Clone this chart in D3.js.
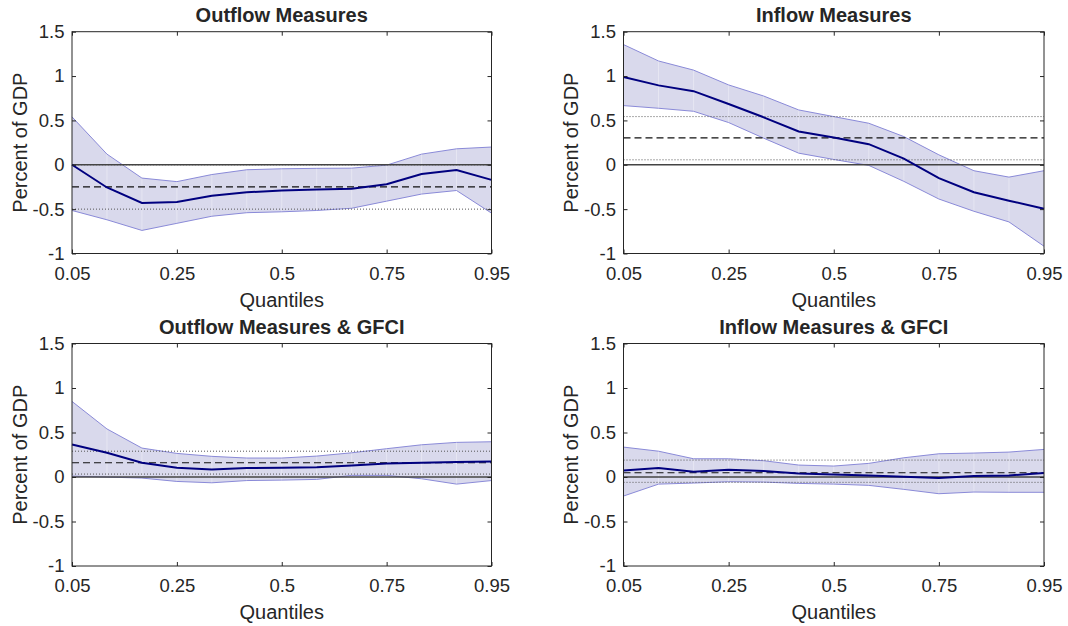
<!DOCTYPE html>
<html>
<head>
<meta charset="utf-8">
<script src="https://cdn.jsdelivr.net/npm/d3@7"></script>
<style>
  body { margin: 0; background: #fff; }
  text { font-family: "Liberation Sans", Arial, sans-serif; fill: #262626; }
</style>
</head>
<body>
<script>
// quantiles estimated (13 points, axis is by position)
const quantiles = ['0.05','0.1','0.2','0.25','0.3','0.4','0.5','0.6','0.7','0.75','0.8','0.9','0.95'];
const xTickLabels = ['0.05','0.25','0.5','0.75','0.95'];
const yTicks = [-1, -0.5, 0, 0.5, 1, 1.5];

const titles = ['Outflow Measures', 'Inflow Measures', 'Outflow Measures & GFCI', 'Inflow Measures & GFCI'];

// Outflow measures
const outMean  = [0.0, -0.256, -0.43, -0.42, -0.35, -0.31, -0.29, -0.28, -0.27, -0.22, -0.105, -0.06, -0.17];
const outUpper = [0.54, 0.12, -0.15, -0.19, -0.11, -0.056, -0.045, -0.04, -0.038, -0.004, 0.12, 0.18, 0.2];
const outLower = [-0.515, -0.62, -0.74, -0.66, -0.58, -0.54, -0.53, -0.515, -0.49, -0.41, -0.33, -0.29, -0.545];
const outRef   = [-0.5, -0.25, 0.0];   // dotted, dashed, dotted

// Inflow measures
const inMean  = [0.99, 0.895, 0.83, 0.685, 0.535, 0.375, 0.307, 0.232, 0.07, -0.15, -0.31, -0.405, -0.495];
const inUpper = [1.355, 1.17, 1.067, 0.9, 0.775, 0.618, 0.543, 0.468, 0.318, 0.112, -0.067, -0.139, -0.067];
const inLower = [0.667, 0.637, 0.603, 0.476, 0.3, 0.131, 0.06, -0.007, -0.187, -0.386, -0.524, -0.644, -0.918];
const inRef   = [0.056, 0.303, 0.543];

// Outflow measures & GFCI
const outGMean  = [0.366, 0.272, 0.16, 0.104, 0.085, 0.1, 0.104, 0.11, 0.13, 0.153, 0.16, 0.168, 0.175];
const outGUpper = [0.849, 0.54, 0.325, 0.265, 0.232, 0.213, 0.213, 0.235, 0.272, 0.318, 0.362, 0.389, 0.396];
const outGLower = [0.01, -0.001, -0.012, -0.05, -0.065, -0.04, -0.035, -0.027, 0.018, 0.018, -0.02, -0.08, -0.04];
const outGRef   = [0.033, 0.16, 0.29];

// Inflow measures & GFCI
const inGMean  = [0.074, 0.1, 0.059, 0.082, 0.067, 0.04, 0.029, 0.018, 0.003, -0.012, 0.01, 0.018, 0.044];
const inGUpper = [0.336, 0.29, 0.205, 0.205, 0.183, 0.134, 0.123, 0.153, 0.216, 0.261, 0.269, 0.28, 0.31];
const inGLower = [-0.214, -0.08, -0.068, -0.053, -0.057, -0.072, -0.08, -0.094, -0.139, -0.188, -0.169, -0.172, -0.172];
const inGRef   = [-0.06, 0.048, 0.19];

const width = 1068, height = 626;

const panels = [
  { title: titles[0], mean: outMean,  upper: outUpper,  lower: outLower,  ref: outRef,  x0: 72,    x1: 491.5, y0: 31.7,  y1: 253.5 },
  { title: titles[1], mean: inMean,   upper: inUpper,   lower: inLower,   ref: inRef,   x0: 623.5, x1: 1044,  y0: 31.7,  y1: 253.5 },
  { title: titles[2], mean: outGMean, upper: outGUpper, lower: outGLower, ref: outGRef, x0: 72,    x1: 491.5, y0: 343.5, y1: 566 },
  { title: titles[3], mean: inGMean,  upper: inGUpper,  lower: inGLower,  ref: inGRef,  x0: 623.5, x1: 1044,  y0: 343.5, y1: 566 }
];

const svg = d3.select('body')
  .append('svg')
  .attr('width', width)
  .attr('height', height);

panels.forEach(drawPanel);

function drawPanel(p) {
  const x = d3.scalePoint()
    .domain(quantiles)
    .range([p.x0, p.x1]);

  const y = d3.scaleLinear()
    .domain([-1, 1.5])
    .range([p.y1, p.y0]);

  const g = svg.append('g');
  const rows = quantiles.map((q, i) => ({ q: q, m: p.mean[i], hi: p.upper[i], lo: p.lower[i] }));

  // confidence band
  g.append('path')
    .datum(rows)
    .attr('d', d3.area().x(d => x(d.q)).y0(d => y(d.lo)).y1(d => y(d.hi)))
    .attr('fill', '#d9d9ec')
    .attr('stroke', 'none');

  // faint seams inside the patch
  g.selectAll('line.seam')
    .data(rows.slice(1, -1))
    .join('line')
    .attr('class', 'seam')
    .attr('x1', d => x(d.q)).attr('x2', d => x(d.q))
    .attr('y1', d => y(d.lo)).attr('y2', d => y(d.hi))
    .attr('stroke', '#fff')
    .attr('stroke-opacity', 0.35)
    .attr('stroke-width', 1);

  ['hi', 'lo'].forEach(k => {
    g.append('path')
      .datum(rows)
      .attr('d', d3.line().x(d => x(d.q)).y(d => y(d[k])))
      .attr('fill', 'none')
      .attr('stroke', '#8a8ad8')
      .attr('stroke-width', 1);
  });

  // reference lines
  const refStyle = [
    { dash: '1,2', color: '#555', w: 1 },
    { dash: '7,4', color: '#111', w: 1.2 },
    { dash: '1,2', color: '#555', w: 1 }
  ];
  g.selectAll('line.ref')
    .data(p.ref)
    .join('line')
    .attr('class', 'ref')
    .attr('x1', p.x0).attr('x2', p.x1)
    .attr('y1', d => y(d)).attr('y2', d => y(d))
    .attr('stroke', (d, i) => refStyle[i].color)
    .attr('stroke-width', (d, i) => refStyle[i].w)
    .attr('stroke-dasharray', (d, i) => refStyle[i].dash);

  // zero line
  g.append('line')
    .attr('x1', p.x0).attr('x2', p.x1)
    .attr('y1', y(0)).attr('y2', y(0))
    .attr('stroke', '#444')
    .attr('stroke-width', 1.5);

  // median estimate
  g.append('path')
    .datum(rows)
    .attr('d', d3.line().x(d => x(d.q)).y(d => y(d.m)))
    .attr('fill', 'none')
    .attr('stroke', '#00007f')
    .attr('stroke-width', 2);

  // axes, ticks inside on all four sides
  const fmt = d => String(d);
  const axes = [
    { ax: d3.axisLeft(y).tickValues(yTicks).tickFormat(fmt), t: `translate(${p.x0},0)`, pad: 7.5 },
    { ax: d3.axisRight(y).tickValues(yTicks).tickFormat(''), t: `translate(${p.x1},0)`, pad: 0 },
    { ax: d3.axisBottom(x).tickValues(xTickLabels), t: `translate(0,${p.y1})`, pad: 13 },
    { ax: d3.axisTop(x).tickValues(xTickLabels).tickFormat(''), t: `translate(0,${p.y0})`, pad: 0 }
  ];
  axes.forEach(a => {
    const ag = g.append('g')
      .attr('transform', a.t)
      .call(a.ax.tickSizeInner(-4).tickSizeOuter(0).tickPadding(a.pad));
    ag.select('.domain').remove();
    ag.selectAll('line').attr('stroke', '#262626');
    ag.selectAll('text')
      .style('font-family', '"Liberation Sans", Arial, sans-serif')
      .style('font-size', '18.5px')
      .attr('fill', '#262626');
  });

  g.append('rect')
    .attr('x', p.x0).attr('y', p.y0)
    .attr('width', p.x1 - p.x0).attr('height', p.y1 - p.y0)
    .attr('fill', 'none')
    .attr('stroke', '#262626')
    .attr('stroke-width', 1);

  const cx = (p.x0 + p.x1) / 2;

  g.append('text')
    .attr('x', cx).attr('y', p.y0 - 9.5)
    .attr('text-anchor', 'middle')
    .style('font-size', '20px')
    .style('font-weight', 'bold')
    .attr('fill', '#000')
    .text(p.title);

  g.append('text')
    .attr('x', cx).attr('y', p.y1 + 53)
    .attr('text-anchor', 'middle')
    .style('font-size', '20px')
    .text('Quantiles');

  g.append('text')
    .attr('transform', `translate(${p.x0 - 45.5},${(p.y0 + p.y1) / 2}) rotate(-90)`)
    .attr('text-anchor', 'middle')
    .style('font-size', '20px')
    .text('Percent of GDP');
}
</script>
</body>
</html>
